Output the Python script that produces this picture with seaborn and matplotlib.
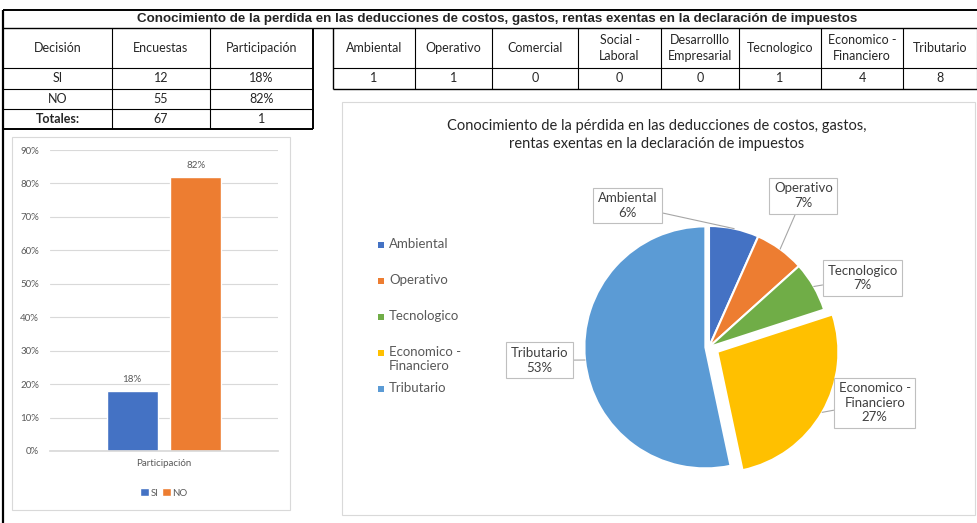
import numpy as np
import pandas as pd
import matplotlib.pyplot as plt
from matplotlib.patches import Rectangle
import seaborn as sns

# datos de la hoja
titulo = "Conocimiento de la perdida en las deducciones de costos, gastos, rentas exentas en la declaración de impuestos"
cabecera = ["Decisión", "Encuestas", "Participación"]
decision = ["SI", "NO"]
encuestas = [12, 55]
participacion = [0.18, 0.82]
total_encuestas = 67
total_participacion = "1"

categorias = ["Ambiental", "Operativo", "Comercial", "Social -\nLaboral",
              "Desarrolllo\nEmpresarial", "Tecnologico", "Economico -\nFinanciero", "Tributario"]
conteos = [1, 1, 0, 0, 0, 1, 4, 8]
pct_etiquetas = ["6%", "7%", "7%", "27%", "53%"]  # tal como aparecen en la torta

titulo_torta = ("Conocimiento de la pérdida en las deducciones de costos, gastos,\n"
                "rentas exentas en la declaración de impuestos")

AZUL, NARANJA, VERDE, AMARILLO, CELESTE = "#4472C4", "#ED7D31", "#70AD47", "#FFC000", "#5B9BD5"
GRIS_TXT = "#595959"
GRIS_LIN = "#D9D9D9"

sns.set_theme(style="white")
plt.rcParams['font.family'] = ['Lato', 'DejaVu Sans']

W, H = 977, 523
fig = plt.figure(figsize=(W / 100, H / 100), dpi=100)
fig.patch.set_facecolor("white")


def px_axes(x0, y0, x1, y1, **kw):
    """Ejes ubicados con coordenadas en pixeles (origen arriba a la izquierda)."""
    return fig.add_axes([x0 / W, 1 - y1 / H, (x1 - x0) / W, (y1 - y0) / H], **kw)


# capa de fondo para tablas y marcos
ov = fig.add_axes([0, 0, 1, 1], zorder=0)
ov.set_xlim(0, W)
ov.set_ylim(H, 0)
ov.axis("off")


def linea(x0, y0, x1, y1, lw=0.8, color="black"):
    ov.plot([x0, x1], [y0, y1], color=color, lw=lw, solid_capstyle="butt")


# ---- titulo general
ov.text(497, 19, titulo, ha="center", va="center", fontsize=9.6, fontweight="bold",
        family=["Liberation Sans", "DejaVu Sans"])
linea(3, 10, W, 10, lw=1.4)
linea(3, 28, W, 28, lw=1.0)
linea(3, 10, 3, H, lw=1.6)

# ---- tabla izquierda
cols_izq = [3, 112, 210, 313]
filas_izq = [28, 68, 89, 109, 129]
for x in cols_izq[1:]:
    linea(x, 28, x, 129, lw=1.4 if x == 313 else 0.8)
for y in filas_izq[1:]:
    linea(3, y, 313, y, lw=1.4 if y == 129 else 0.8)

cx_izq = [(a + b) / 2 for a, b in zip(cols_izq[:-1], cols_izq[1:])]
for cx, t in zip(cx_izq, cabecera):
    ov.text(cx, 48, t, ha="center", va="center", fontsize=9)
filas = list(zip(decision, encuestas, [f"{p:.0%}" for p in participacion]))
filas.append(("Totales:", total_encuestas, total_participacion))
for i, fila in enumerate(filas):
    yc = (filas_izq[i + 1] + filas_izq[i + 2]) / 2
    for j, (cx, v) in enumerate(zip(cx_izq, fila)):
        ov.text(cx, yc, str(v), ha="center", va="center", fontsize=9,
                fontweight="bold" if v == "Totales:" else "normal")

# ---- tabla derecha
cols_der = [333, 415, 492, 578, 661, 739, 821, 903, 977]
linea(333, 28, 333, 89, lw=1.0)
for x in cols_der[1:]:
    linea(x, 28, x, 89)
linea(333, 68, W, 68)
linea(333, 89, W, 89, lw=1.0)
for i, (cat, n) in enumerate(zip(categorias, conteos)):
    cx = (cols_der[i] + cols_der[i + 1]) / 2
    ov.text(cx, 48, cat, ha="center", va="center", fontsize=9, linespacing=1.3)
    ov.text(cx, 78.5, str(n), ha="center", va="center", fontsize=9)

# ---- marcos de los graficos
ov.add_patch(Rectangle((12, 137), 278, 373, fill=False, ec=GRIS_LIN, lw=0.8))
ov.add_patch(Rectangle((342, 102), 633, 413, fill=False, ec=GRIS_LIN, lw=0.8))

# ---- grafico de barras
df_bar = pd.DataFrame({"grupo": ["Participación"] * len(decision),
                       "decision": decision,
                       "valor": participacion})
ax = px_axes(50, 150, 278, 451, zorder=2)
ax.patch.set_alpha(0)
sns.barplot(data=df_bar, x="grupo", y="valor", hue="decision",
            palette=[AZUL, NARANJA], width=0.56, gap=0.2, ax=ax, saturation=1)
ax.set_ylim(0, 0.9)
ax.set_xlim(-0.5, 0.5)
ax.set_yticks(np.arange(0, 0.91, 0.1))
ax.set_yticklabels([f"{v:.0%}" for v in np.arange(0, 0.91, 0.1)])
ax.yaxis.grid(True, color=GRIS_LIN, lw=0.8)
ax.set_axisbelow(True)
for s in ["top", "right", "left"]:
    ax.spines[s].set_visible(False)
ax.spines["bottom"].set_color(GRIS_LIN)
ax.tick_params(length=0, labelsize=7, colors=GRIS_TXT, pad=8)
ax.tick_params(axis="x", pad=6)
ax.set_xlabel("")
ax.set_ylabel("")
for cont, p in zip(ax.containers, participacion):
    ax.bar_label(cont, labels=[f"{p:.0%}"], fontsize=7, color=GRIS_TXT, padding=5)
ax.legend(handles=ax.containers, labels=decision, loc="upper center",
          bbox_to_anchor=(0.5, -0.095), ncol=2, frameon=False, fontsize=7,
          handlelength=0.9, handleheight=0.9, columnspacing=0.4, handletextpad=0.15,
          labelcolor=GRIS_TXT)

# ---- torta
pie_cats = [c for c, n in zip(categorias, conteos) if n > 0]
pie_vals = [n for n in conteos if n > 0]
pie_cols = [AZUL, NARANJA, VERDE, AMARILLO, CELESTE]
explode = [0, 0, 0, 0.08, 0.03]

R = 121
cx0, cy0 = 709, 347
hw, hh = 280, 175
axp = px_axes(cx0 - hw, cy0 - hh, cx0 + hw, cy0 + hh, zorder=3)
wedges, _ = axp.pie(pie_vals, colors=pie_cols, startangle=90, counterclock=False,
                    explode=explode, wedgeprops=dict(edgecolor="white", linewidth=1.5))
axp.set_xlim(-hw / R, hw / R)
axp.set_ylim(-hh / R, hh / R)
axp.set_aspect("auto")
axp.axis("off")

# posicion de cada etiqueta (en radios) respecto del centro
pos_etq = [(-0.67, 1.17), (0.78, 1.25), (1.27, 0.57), (1.37, -0.46), (-1.40, -0.11)]
for w, cat, pct, (tx, ty), ex in zip(wedges, pie_cats, pct_etiquetas, pos_etq, explode):
    ang = np.deg2rad((w.theta1 + w.theta2) / 2)
    r = 1 + ex
    axp.annotate(f"{cat}\n{pct}", xy=(r * np.cos(ang), r * np.sin(ang)), xytext=(tx, ty),
                 ha="center", va="center", fontsize=9.5, color="#404040", linespacing=1.25,
                 bbox=dict(boxstyle="square,pad=0.35", fc="white", ec="#BFBFBF", lw=0.8),
                 arrowprops=dict(arrowstyle="-", color="#A6A6A6", lw=0.8,
                                 shrinkA=0, shrinkB=0),
                 annotation_clip=False)

ov.text(657, 135, titulo_torta, ha="center", va="center", fontsize=10.5,
        color="#262626", linespacing=1.35)

# leyenda de la torta
for i, (cat, col) in enumerate(zip(pie_cats, pie_cols)):
    y = 245 + 36 * i
    ov.add_patch(Rectangle((378, y - 3), 6, 6, color=col, lw=0))
    ov.text(389, y - 7.5, cat, ha="left", va="top", fontsize=9.5, color=GRIS_TXT,
            linespacing=1.3)

fig.savefig("out.png", dpi=100)
